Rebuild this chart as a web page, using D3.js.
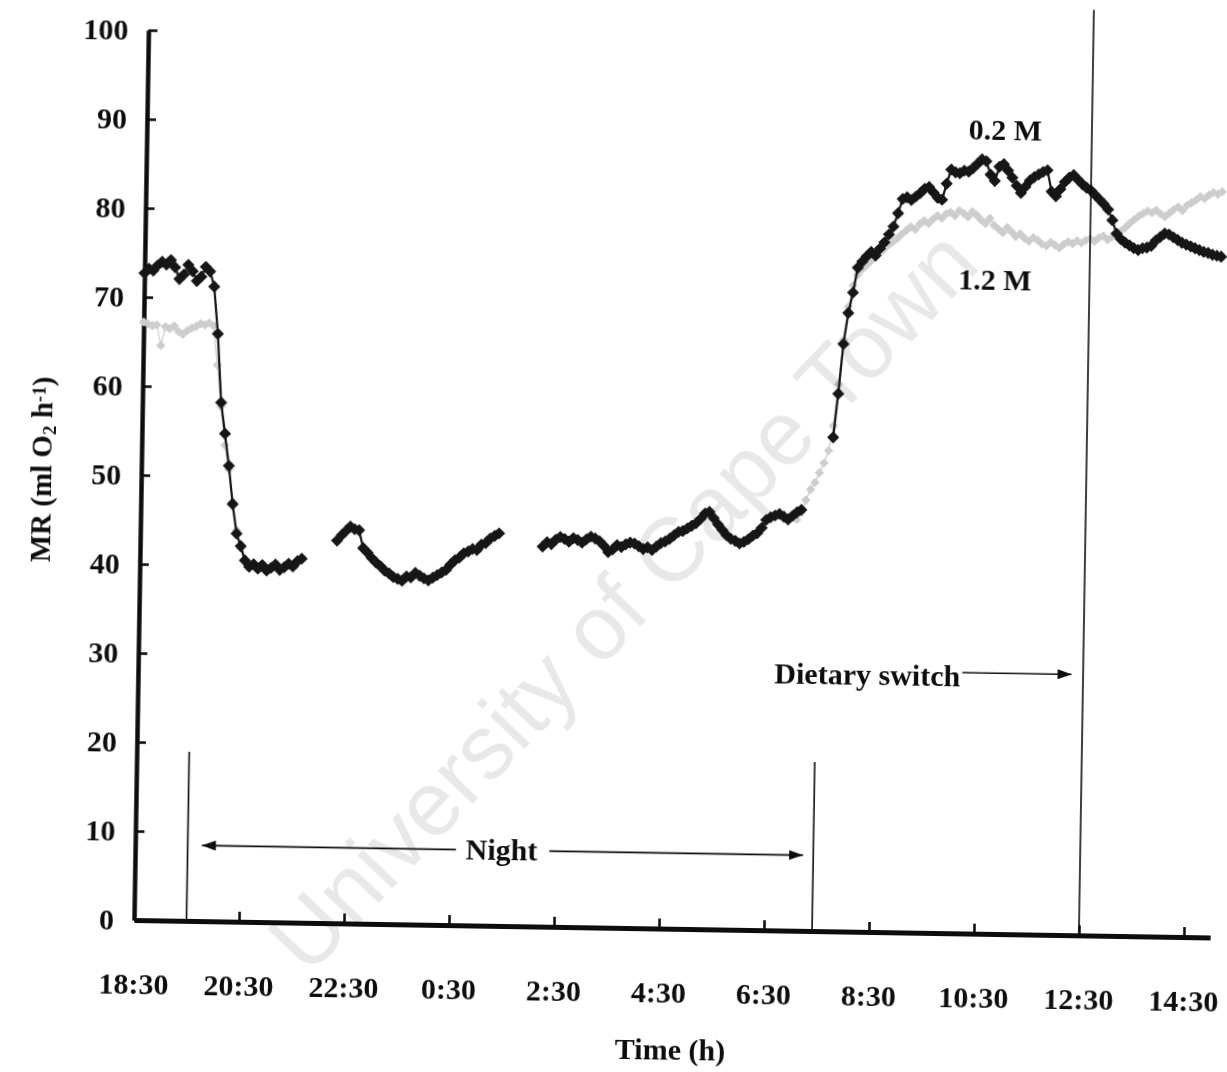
<!DOCTYPE html>
<html>
<head>
<meta charset="utf-8">
<script src="https://cdn.jsdelivr.net/npm/d3@7"></script>
<style>
  html, body { margin: 0; padding: 0; background: #fff; }
  svg { display: block; }
</style>
</head>
<body>
<svg id="chart" width="1227" height="1072"></svg>
<script>
// Respirometry run: readings every 5 minutes, clock starts at 18:30
const startClock = 18.5;
const stepMinutes = 5;

// MR (ml O2 h-1), 0.2 M diet — runs of consecutive readings with their start time
const mr02EveningStart = "18:30";
const mr02Evening = [72.7,73.2,73.0,73.6,74.0,73.7,74.2,73.4,72.1,72.6,73.7,73.0,71.9,72.4,73.5,73.0,71.3,66.0,58.3,54.8,51.2,46.9,43.6,42.2,40.6,39.9,40.2,39.7,40.1,39.5,39.8,40.2,39.6,39.9,40.3,40.0,40.6,40.9];
const mr02LateNightStart = "22:15";
const mr02LateNight = [43.0,43.6,44.1,44.6,44.3,44.2,42.2,41.7,41.1,40.6,40.2,39.7,39.4,39.0,38.8,38.6,39.1,39.0,39.5,39.2,38.9,38.7,39.0,39.3,39.6,39.9,40.5,41.0,41.3,41.8,42.0,42.3,42.2,42.8,43.0,43.5,43.8,44.1];
const mr02EarlyStart = "2:10";
const mr02Early = [42.7,43.2,43.0,43.5,43.8,43.6,43.3,43.7,43.5,43.2,
                   43.6,43.9,43.7,43.4,42.9,42.2,42.5,43.0,42.8,43.1,
                   43.3,43.2,42.9,42.6,42.8,42.5,42.9,43.3,43.5,43.8,
                   44.2,44.6,44.7,45.0,45.3,45.6,46.1,46.7,46.9,46.2,
                   45.5,44.9,44.3,43.9,43.7,43.4,43.6,43.9,44.3,44.6,
                   45.2,46.1,46.4,46.6,46.8,46.5,46.2,46.6,47.0,47.3];
const mr02MorningStart = "7:40";
const mr02Morning = [55.5,60.4,66.0,69.5,71.8,74.6,75.3,75.9,76.4,76.0,
                     76.8,77.5,78.4,79.3,80.8,82.4,82.6,82.3,82.7,83.1,
                     83.6,83.8,83.2,82.6,82.4,84.2,85.8,85.5,85.4,85.7,
                     85.6,86.0,86.5,87.0,86.8,85.3,84.6,86.2,86.5,85.8,
                     85.0,84.1,83.3,84.0,84.7,85.1,85.4,85.7,85.9,83.5,
                     83.0,83.8,84.6,85.1,85.4,84.9,84.4,84.0,83.7,83.2,
                     82.7,82.2,81.6,80.4,78.9,78.3,77.9,77.6,77.3,77.1,
                     77.3,77.4,77.6,78.2,78.6,79.0,78.9,78.6,78.3,78.0,
                     77.8,77.6,77.4,77.2,77.0,76.9,76.7,76.6,76.5];

// MR (ml O2 h-1), 1.2 M diet
const mr12EveningStart = "18:30";
const mr12Evening = [67.2,67.0,66.8,66.9,64.6,66.7,66.5,66.8,66.2,65.9,66.3,66.6,66.8,67.1,67.0,67.2,66.9,62.5,57.8,53.5,50.8,47.2,44.0,42.0,40.5];
const mr12MorningStart = "7:00";
const mr12Morning = [46.2,47.0,48.4,49.6,50.4,51.5,52.6,54.0,56.8,61.5,
                     66.5,70.2,72.6,73.8,74.4,74.9,75.4,75.8,76.3,76.8,
                     77.2,77.6,78.0,78.5,78.9,79.3,79.0,79.6,80.0,79.7,
                     80.2,80.6,80.3,80.8,81.0,80.6,81.2,80.9,80.5,81.1,
                     80.7,80.2,79.8,80.4,79.6,79.2,78.8,79.4,78.9,78.4,
                     78.7,78.2,77.9,78.3,78.0,77.6,77.4,77.8,77.5,77.2,
                     77.6,77.9,77.7,78.0,77.8,78.1,78.3,78.0,78.4,78.6,
                     78.2,78.5,78.8,79.2,79.6,80.1,80.5,80.9,81.2,81.5,
                     81.3,81.6,81.2,80.9,81.3,81.7,82.0,81.6,82.2,82.5,
                     82.8,83.2,83.0,83.4,83.7,83.5,83.8];

// Axis ticks
const xTickHours = [0, 2, 4, 6, 8, 10, 12, 14, 16, 18, 20];
const xTickLabels = ["18:30","20:30","22:30","0:30","2:30","4:30","6:30","8:30","10:30","12:30","14:30"];
const yTickValues = [0, 10, 20, 30, 40, 50, 60, 70, 80, 90, 100];

// Annotations (clock times / MR values)
const nightStart = "19:30", nightEnd = "7:25";
const nightMarkerTop = 19;
const switchTime = "12:30";
const switchLineTop = 104;

// ---------------------------------------------------------------
const W = 1227, H = 1072;
const serif = "'Liberation Serif', 'Times New Roman', serif";

function hoursFromStart(clock) {
  const [h, m] = clock.split(":").map(Number);
  let v = h + m / 60 - startClock;
  if (v < 0) v += 24;
  return v;
}
function run(start, values) {
  const t0 = hoursFromStart(start);
  return values.map((v, i) => ({ t: t0 + i * stepMinutes / 60, v }));
}

const series02 = [
  run(mr02EveningStart, mr02Evening),
  run(mr02LateNightStart, mr02LateNight),
  run(mr02EarlyStart, mr02Early),
  run(mr02MorningStart, mr02Morning)
];
const series12 = [
  run(mr12EveningStart, mr12Evening),
  run(mr12MorningStart, mr12Morning)
];

const x = d3.scaleLinear().domain([0, 20.5]).range([134, 1210.25]);
const y = d3.scaleLinear().domain([0, 100]).range([920, 30]);

const svg = d3.select("#chart");
svg.append("rect").attr("width", W).attr("height", H).attr("fill", "#fff");

const defs = svg.append("defs");
defs.append("filter").attr("id", "soft")
  .append("feGaussianBlur").attr("stdDeviation", 0.6);
defs.append("marker").attr("id", "head")
  .attr("viewBox", "0 0 14 10").attr("refX", 14).attr("refY", 5)
  .attr("markerWidth", 14).attr("markerHeight", 10)
  .attr("markerUnits", "userSpaceOnUse").attr("orient", "auto-start-reverse")
  .append("path").attr("d", "M0,0L14,5L0,10Z").attr("fill", "#111");

// the printed figure sits slightly turned on the page
const root = svg.append("g")
  .attr("transform", `rotate(0.93, ${x(0)}, ${y(0)})`)
  .attr("filter", "url(#soft)");

// ---- axes
const yAxis = d3.axisLeft(y).tickValues(yTickValues).tickSize(-9).tickSizeOuter(0)
  .tickPadding(20).tickFormat(d3.format("d"));
const gy = root.append("g").attr("transform", `translate(${x(0)},0)`).call(yAxis);

const xAxis = d3.axisBottom(x).tickValues(xTickHours).tickSize(-10).tickSizeOuter(0)
  .tickPadding(53).tickFormat((d, i) => xTickLabels[i]);
const gx = root.append("g").attr("transform", `translate(0,${y(0)})`).call(xAxis);

[gx, gy].forEach(g => {
  g.attr("font-family", serif).attr("font-size", 30).attr("font-weight", "bold");
  g.selectAll("text").attr("fill", "#111");
  g.selectAll(".tick line").attr("stroke", "#111").attr("stroke-width", 2.6);
});
gy.select(".domain").attr("stroke", "#111").attr("stroke-width", 4.5);
gx.select(".domain").attr("stroke", "#111").attr("stroke-width", 5);

// axis titles
root.append("text").attr("x", 672).attr("y", 1051).attr("text-anchor", "middle")
  .attr("font-family", serif).attr("font-size", 30).attr("font-weight", "bold")
  .attr("fill", "#111").text("Time (h)");

const yt = root.append("text").attr("transform", "translate(44,471) rotate(-90)")
  .attr("text-anchor", "middle").attr("font-family", serif)
  .attr("font-size", 29).attr("font-weight", "bold").attr("fill", "#111");
yt.append("tspan").text("MR (ml O");
yt.append("tspan").attr("font-size", 19).attr("baseline-shift", "-22%").text("2");
yt.append("tspan").text(" h");
yt.append("tspan").attr("font-size", 19).attr("baseline-shift", "38%").text("-1");
yt.append("tspan").text(")");

// ---- series
const line = d3.line().x(d => x(d.t)).y(d => y(d.v));

function drawSeries(runs, color, lineWidth, markerSize) {
  const diamond = d3.symbol(d3.symbolSquare, markerSize);
  const g = root.append("g");
  runs.forEach(r => {
    g.append("path").datum(r).attr("d", line).attr("fill", "none")
      .attr("stroke", color).attr("stroke-width", lineWidth)
      .attr("stroke-linejoin", "round");
    g.selectAll(null).data(r).enter().append("path")
      .attr("d", diamond)
      .attr("transform", d => `translate(${x(d.t)},${y(d.v)}) rotate(45)`)
      .attr("fill", color);
  });
}
drawSeries(series12, "#cdcdcd", 1.3, 44);
drawSeries(series02, "#141414", 2.2, 74);

// ---- annotations
const tNightA = hoursFromStart(nightStart), tNightB = hoursFromStart(nightEnd);
const tSwitch = hoursFromStart(switchTime);
const ann = root.append("g").attr("stroke", "#111").attr("stroke-width", 1.6);
ann.append("line").attr("x1", x(tNightA)).attr("x2", x(tNightA)).attr("y1", y(0)).attr("y2", y(nightMarkerTop));
ann.append("line").attr("x1", x(tNightB)).attr("x2", x(tNightB)).attr("y1", y(0)).attr("y2", y(nightMarkerTop));
ann.append("line").attr("x1", x(tSwitch)).attr("x2", x(tSwitch)).attr("y1", y(0)).attr("y2", y(switchLineTop));

// night arrow with its label in the gap
const nightArrowV = 8.5;
ann.append("line").attr("x1", x(6.11)).attr("x2", x(1.27))
  .attr("y1", y(nightArrowV)).attr("y2", y(nightArrowV)).attr("marker-end", "url(#head)");
ann.append("line").attr("x1", x(7.89)).attr("x2", x(12.72))
  .attr("y1", y(nightArrowV)).attr("y2", y(nightArrowV)).attr("marker-end", "url(#head)");
root.append("text").attr("x", x(6.98)).attr("y", y(nightArrowV) + 10)
  .attr("text-anchor", "middle").attr("font-family", serif).attr("font-size", 30)
  .attr("font-weight", "bold").attr("fill", "#111").text("Night");

// dietary switch arrow
ann.append("line").attr("x1", x(15.7)).attr("x2", x(17.78))
  .attr("y1", y(29.3)).attr("y2", y(29.3)).attr("marker-end", "url(#head)");
root.append("text").attr("x", x(15.66)).attr("y", y(27.8))
  .attr("text-anchor", "end").attr("font-family", serif).attr("font-size", 30)
  .attr("font-weight", "bold").attr("fill", "#111").text("Dietary switch");

// series labels
root.append("text").attr("x", x(16.35)).attr("y", y(89.2))
  .attr("text-anchor", "middle").attr("font-family", serif).attr("font-size", 30)
  .attr("font-weight", "bold").attr("fill", "#111").text("0.2 M");
root.append("text").attr("x", x(16.2)).attr("y", y(72.35))
  .attr("text-anchor", "middle").attr("font-family", serif).attr("font-size", 30)
  .attr("font-weight", "bold").attr("fill", "#111").text("1.2 M");

// repository stamp across the page
svg.append("text").attr("transform", "translate(622,600) rotate(-46.5)")
  .attr("text-anchor", "middle").attr("dy", "0.35em")
  .attr("font-family", "'Liberation Sans', Arial, sans-serif").attr("font-size", 91)
  .attr("fill", "#000").attr("fill-opacity", 0.09)
  .text("University of Cape Town");
</script>
</body>
</html>
